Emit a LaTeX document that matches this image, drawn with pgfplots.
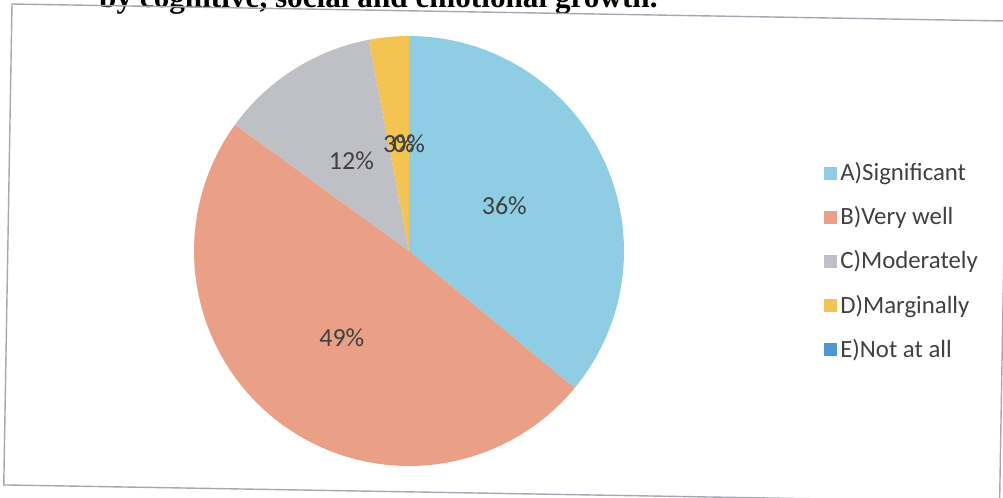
\documentclass[border=0pt]{standalone}
\usepackage{pgfplots}
\pgfplotsset{compat=1.18}
\usepackage{fontspec}
\setmainfont{Carlito}
\newfontfamily\titlefont{Liberation Serif}
\definecolor{colA}{RGB}{142,205,228}
\definecolor{colB}{RGB}{234,160,134}
\definecolor{colC}{RGB}{191,191,198}
\definecolor{colD}{RGB}{243,196,82}
\definecolor{colE}{RGB}{77,152,212}
\definecolor{txtgray}{RGB}{64,64,64}
\definecolor{framegray}{RGB}{165,168,178}
% data (percent)
\def\vA{36}
\def\vB{49}
\def\vC{12}
\def\vD{3}
\def\vE{0}
\pgfmathsetmacro\aA{90}
\pgfmathsetmacro\aB{90-3.6*\vA}
\pgfmathsetmacro\aC{90-3.6*(\vA+\vB)}
\pgfmathsetmacro\aD{90-3.6*(\vA+\vB+\vC)}
\pgfmathsetmacro\aE{90-3.6*(\vA+\vB+\vC+\vD)}
\pgfmathsetmacro\aF{90-3.6*(\vA+\vB+\vC+\vD+\vE)}
\pgfmathsetmacro\mA{(\aA+\aB)/2}
\pgfmathsetmacro\mB{(\aB+\aC)/2}
\pgfmathsetmacro\mC{(\aC+\aD)/2}
\pgfmathsetmacro\mD{(\aD+\aE)/2}
\pgfmathsetmacro\mE{(\aE+\aF)/2+360}
\begin{document}
\begin{tikzpicture}
\useasboundingbox (0,0) rectangle (501.5pt,-249pt);
\clip (0,0) rectangle (501.5pt,-249pt);
% truncated title
\node[anchor=base east, inner sep=0pt, text=black] at (329pt,-4pt)
  {\titlefont\bfseries\fontsize{15.6}{18}\selectfont by cognitive, social and emotional growth.};
% frame (slightly rotated scan)
\draw[framegray, line width=0.7pt] (6pt,-2pt) -- ++(-0.98:498pt) -- ++(-90.98:240.5pt) -- ++(179.02:498pt) -- cycle;
\begin{axis}[
  at={(204.5pt,-125.5pt)}, anchor=origin,
  x=107.5pt, y=107.5pt,
  xmin=-1, xmax=1, ymin=-1, ymax=1,
  hide axis, clip=false,
  legend image code/.code={\fill[#1] (0pt,-3.25pt) rectangle (6.5pt,3.25pt);},
  legend style={at={(1.451,0.723)}, anchor=north west, draw=none, fill=none,
    font=\fontsize{12.4}{14}\selectfont, text=txtgray, row sep=8.5pt,
    nodes={inner sep=1.5pt}},
  legend cell align=left,
]
\addplot[draw=none, fill=colA, domain=\aB:\aA, samples=80] ({cos(x)},{sin(x)}) -- (axis cs:0,0) -- cycle;
\addlegendentry{A)Significant}
\addplot[draw=none, fill=colB, domain=\aC:\aB, samples=100] ({cos(x)},{sin(x)}) -- (axis cs:0,0) -- cycle;
\addlegendentry{B)Very well}
\addplot[draw=none, fill=colC, domain=\aD:\aC, samples=40] ({cos(x)},{sin(x)}) -- (axis cs:0,0) -- cycle;
\addlegendentry{C)Moderately}
\addplot[draw=none, fill=colD, domain=\aE:\aD, samples=20] ({cos(x)},{sin(x)}) -- (axis cs:0,0) -- cycle;
\addlegendentry{D)Marginally}
\addlegendimage{draw=none, fill=colE}
\addlegendentry{E)Not at all}
\begin{scope}[font=\fontsize{13}{15}\selectfont, text=txtgray]
\node at (axis cs:{0.49*cos(\mA)},{0.49*sin(\mA)}) {36\%};
\node at (axis cs:{0.51*cos(\mB)},{0.51*sin(\mB)}) {49\%};
\node at (axis cs:{0.50*cos(\mC)},{0.50*sin(\mC)}) {12\%};
\node at (axis cs:{0.50*cos(\mD)},{0.50*sin(\mD)}) {3\%};
\node at (axis cs:{0.50*cos(\mE)},{0.50*sin(\mE)}) {0\%};
\end{scope}
\end{axis}
\end{tikzpicture}
\end{document}
